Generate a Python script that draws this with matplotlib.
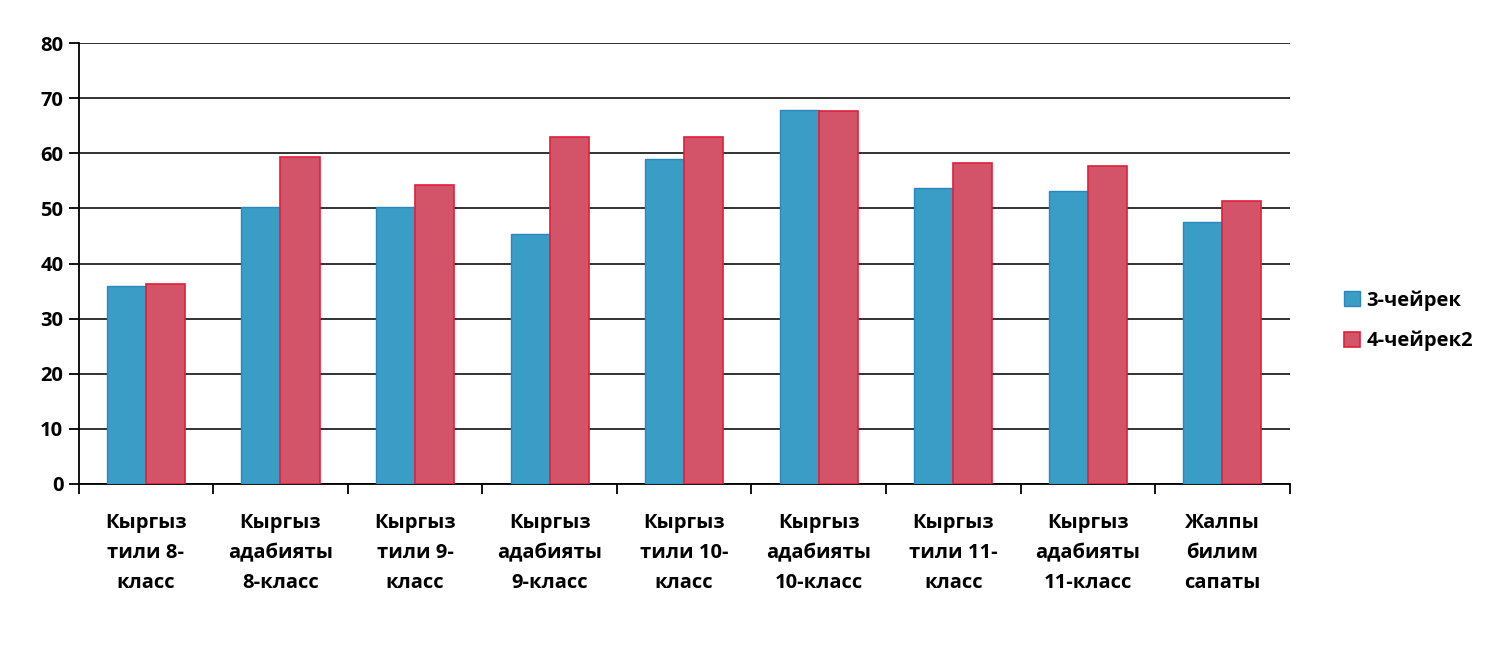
import matplotlib.pyplot as plt
import numpy as np

plt.rcParams['font.family'] = ['Open Sans', 'DejaVu Sans']

categories = ["Кыргыз\nтили 8-\nкласс", "Кыргыз\nадабияты\n8-класс",
              "Кыргыз\nтили 9-\nкласс", "Кыргыз\nадабияты\n9-класс",
              "Кыргыз\nтили 10-\nкласс", "Кыргыз\nадабияты\n10-класс",
              "Кыргыз\nтили 11-\nкласс", "Кыргыз\nадабияты\n11-класс",
              "Жалпы\nбилим\nсапаты"]
q3 = [36.0, 50.3, 50.3, 45.3, 59.0, 67.8, 53.7, 53.2, 47.6]
q4 = [36.2, 59.3, 54.3, 63.0, 63.0, 67.7, 58.3, 57.8, 51.3]
series_names = ["3-чейрек", "4-чейрек2"]

fig = plt.figure(figsize=(15.12, 6.46), dpi=100)
ax = fig.add_axes([0.052, 0.251, 0.801, 0.682])

x = np.arange(len(categories))
w = 0.29
ax.bar(x - w/2, q3, w, color='#3a9dc6', edgecolor='#2a86c0', lw=1, label=series_names[0], zorder=3)
ax.bar(x + w/2, q4, w, color='#d35369', edgecolor='#e0203a', lw=1.2, label=series_names[1], zorder=3)

ax.set_xlim(-0.5, len(categories) - 0.5)
ax.set_ylim(0, 80)
ax.set_yticks(range(0, 81, 10))
ax.yaxis.grid(True, color='#222222', lw=1.3)
ax.set_axisbelow(True)

# ticks between categories, labels at centres
ax.set_xticks(np.arange(-0.5, len(categories), 1))
ax.set_xticklabels([])
ax.set_xticks(x, minor=True)
ax.set_xticklabels(categories, minor=True, fontsize=14.5, fontweight='bold',
                   linespacing=1.68)
ax.tick_params(axis='x', which='minor', length=0, pad=21)
ax.tick_params(axis='x', which='major', length=7, width=1.3, direction='out')
ax.tick_params(axis='y', length=7, width=1.3, labelsize=14.5, pad=4)
for t in ax.get_yticklabels():
    t.set_fontweight('bold')

ax.spines['top'].set_visible(False)
ax.spines['right'].set_visible(False)
ax.spines['left'].set_linewidth(1.3)
ax.spines['bottom'].set_linewidth(1.3)

ax.legend(loc='center left', bbox_to_anchor=(1.03, 0.37), frameon=False,
          prop={'size': 14.5, 'weight': 'bold'}, handlelength=0.8, handleheight=0.8,
          handletextpad=0.3, labelspacing=1.0)

fig.savefig('out.png', dpi=100)
